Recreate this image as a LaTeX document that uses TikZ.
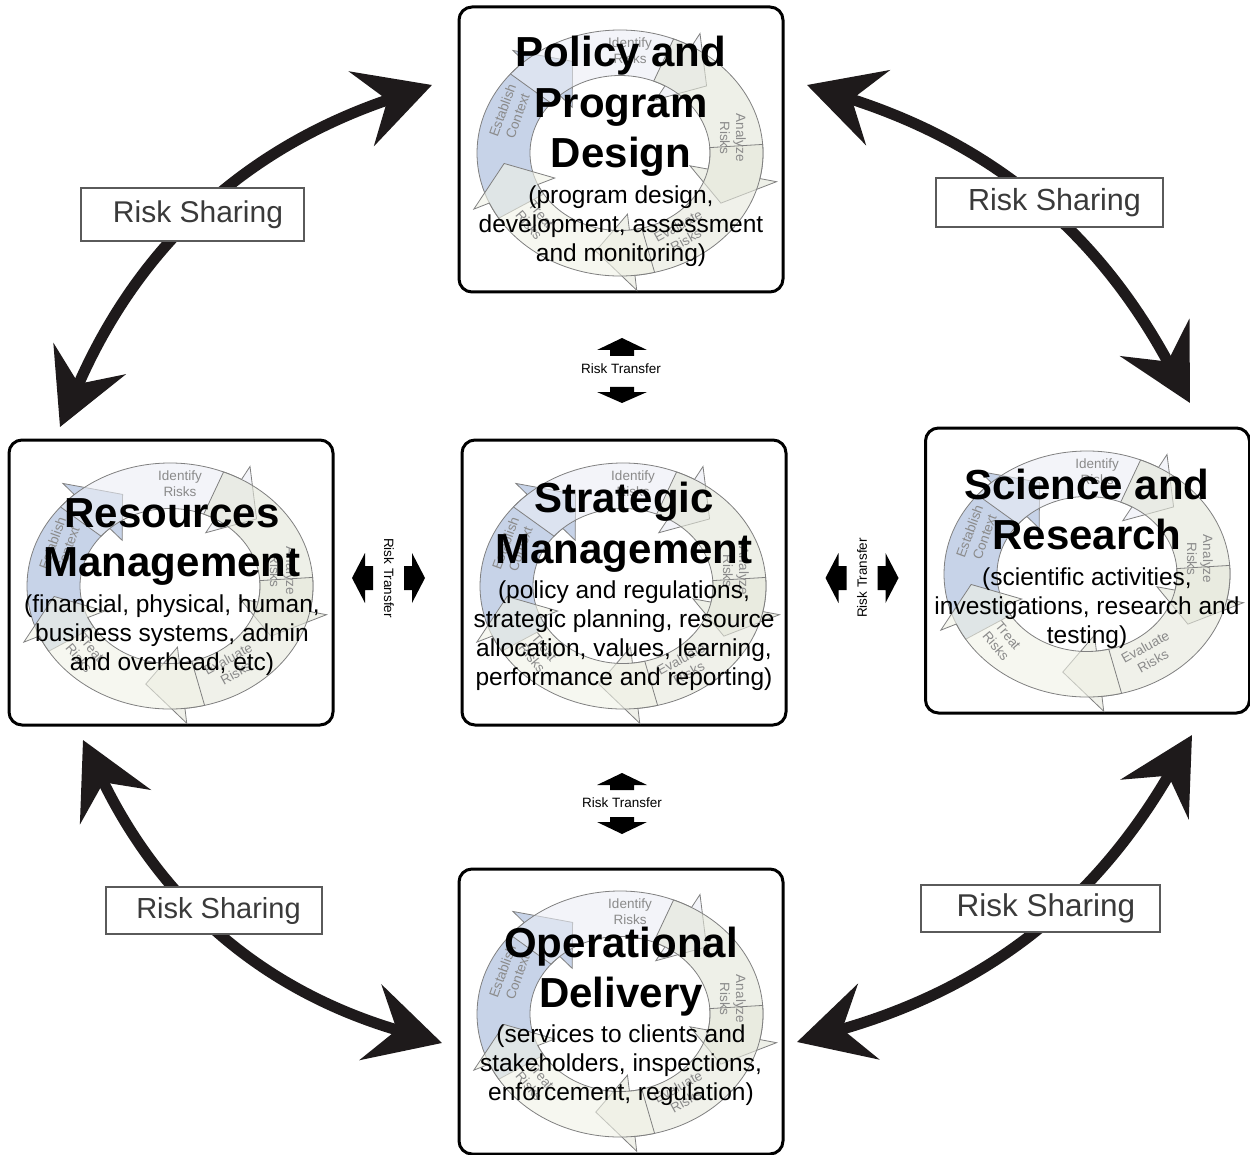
\documentclass[tikz,border=0pt]{standalone}
\usepackage{fontspec}
\setmainfont{Liberation Sans}
\usetikzlibrary{arrows.meta,calc}

\definecolor{idfill}{HTML}{EBEEF6}
\definecolor{anfill}{HTML}{E3E6D9}
\definecolor{evfill}{HTML}{E6E8DC}
\definecolor{trfill}{HTML}{F0F2E6}
\definecolor{esfill}{HTML}{A3B7D9}
\definecolor{segedge}{HTML}{808080}
\definecolor{cyctext}{HTML}{8A8A8A}
\definecolor{arrowink}{HTML}{1E1A1B}
\definecolor{shareedge}{HTML}{5A5A5A}
\definecolor{sharetext}{HTML}{3A3A3A}

\tikzset{
  panel/.style={draw=black, line width=3pt, rounded corners=13pt, fill=white,
    minimum width=324pt, minimum height=285pt, inner sep=0pt, outer sep=0pt},
  seg/.style={draw=segedge, line width=0.8pt, fill opacity=0.6},
  cyclabel/.style={text=cyctext, font=\fontsize{13.5}{16}\selectfont, align=center, inner sep=0pt},
  ttl/.style={font=\bfseries\fontsize{42}{49}\selectfont, anchor=base, inner sep=0pt},
  sub/.style={font=\fontsize{24.5}{29}\selectfont, anchor=base, inner sep=0pt},
  share/.style={draw=arrowink, line width=11pt,
    {Stealth[length=74pt,width=78pt,inset=27pt]}-{Stealth[length=74pt,width=78pt,inset=27pt]}},
  sharebox/.style={draw=shareedge, line width=2pt, fill=white, text=sharetext, inner sep=0pt},
  xfer/.style={fill=black},
  xferlabel/.style={font=\fontsize{13.5}{16}\selectfont, inner sep=0pt}
}

% one arrow of the risk management cycle: tail angle #1, head angle #2, fill #3
\newcommand{\cycleseg}[3]{%
  \filldraw[seg, fill=#3]
    (#1:143pt and 123pt) arc[start angle=#1, end angle=#2, x radius=143pt, y radius=123pt]
    -- (#2:160pt and 138pt) -- ({#2-18}:116.5pt and 100.25pt) -- (#2:71.5pt and 61.5pt)
    -- (#2:90pt and 77.5pt) arc[start angle=#2, end angle=#1, x radius=90pt, y radius=77.5pt]
    -- cycle;}

% the five-step cycle drawn behind a panel title: centre #1, name prefix #2
\newcommand{\riskcycle}[2]{%
  \begin{scope}[shift={#1}]
    \cycleseg{-148}{-228}{esfill}
    \cycleseg{140}{60}{idfill}
    \cycleseg{68}{-12}{anfill}
    \cycleseg{4}{-84}{evfill}
    \cycleseg{-76}{-156}{trfill}
    \node[cyclabel] (#2-id) at (10,102) {Identify\\Risks};
    \node[cyclabel, rotate=-90] (#2-an) at (113,15) {Analyze\\Risks};
    \node[cyclabel, rotate=29] (#2-ev) at (62,-80) {Evaluate\\Risks};
    \node[cyclabel, rotate=-50] (#2-tr) at (-85,-67) {Treat\\Risks};
    \node[cyclabel, rotate=70] (#2-es) at (-110,40) {Establish\\Context};
  \end{scope}}

\begin{document}
\begin{tikzpicture}[x=1pt, y=1pt]
\useasboundingbox (0,0) rectangle (1250,-1155);

% ---------- panels ----------
\node[panel] (policy) at (621,-149.5) {};
\node[panel] (strategic) at (624,-582.5) {};
\node[panel] (resources) at (171,-582.5) {};
\node[panel] (science) at (1087.5,-570.5) {};
\node[panel] (operational) at (621,-1011.5) {};

\riskcycle{(620,-153)}{pc}
\riskcycle{(623,-586)}{sc}
\riskcycle{(170,-586)}{rc}
\riskcycle{(1087,-574)}{xc}
\riskcycle{(620,-1014)}{oc}

% ---------- panel titles ----------
\node[ttl] (pol-t1) at (621,-67) {Policy and};
\node[ttl] (pol-t2) at (621,-118) {Program};
\node[ttl] (pol-t3) at (621,-168) {Design};
\node[sub] (pol-s1) at (621,-204) {(program design,};
\node[sub] (pol-s2) at (621,-233) {development, assessment};
\node[sub] (pol-s3) at (621,-262) {and monitoring)};

\node[ttl] (str-t1) at (624,-512) {Strategic};
\node[ttl] (str-t2) at (624,-563) {Management};
\node[sub] (str-s1) at (624,-598) {(policy and regulations,};
\node[sub] (str-s2) at (624,-627) {strategic planning, resource};
\node[sub] (str-s3) at (624,-656) {allocation, values, learning,};
\node[sub] (str-s4) at (624,-685) {performance and reporting)};

\node[ttl] (res-t1) at (172,-527) {Resources};
\node[ttl] (res-t2) at (172,-576) {Management};
\node[sub] (res-s1) at (172,-612) {(financial, physical, human,};
\node[sub] (res-s2) at (172,-641) {business systems, admin};
\node[sub] (res-s3) at (172,-670) {and overhead, etc)};

\node[ttl] (sci-t1) at (1087,-499) {Science and};
\node[ttl] (sci-t2) at (1087,-549) {Research};
\node[sub] (sci-s1) at (1087,-585) {(scientific activities,};
\node[sub] (sci-s2) at (1087,-614) {investigations, research and};
\node[sub] (sci-s3) at (1087,-643) {testing)};

\node[ttl] (ops-t1) at (621,-957) {Operational};
\node[ttl] (ops-t2) at (621,-1007) {Delivery};
\node[sub] (ops-s1) at (621,-1042) {(services to clients and};
\node[sub] (ops-s2) at (621,-1071) {stakeholders, inspections,};
\node[sub] (ops-s3) at (621,-1100) {enforcement, regulation)};

% ---------- risk sharing arrows ----------
\coordinate (tl-a) at (60,-427);
\coordinate (tl-b) at (432,-85);
\coordinate (tr-a) at (807,-85);
\coordinate (tr-b) at (1190,-403);
\coordinate (bl-a) at (83,-740);
\coordinate (bl-b) at (442,-1043);
\coordinate (br-a) at (1192,-735);
\coordinate (br-b) at (797,-1042);

\draw[share] (tl-a) to[bend left=24] (tl-b);
\draw[share] (tr-a) to[bend left=22] (tr-b);
\draw[share] (bl-a) to[bend right=24] (bl-b);
\draw[share] (br-a) to[bend left=22] (br-b);

\node[sharebox, minimum width=223pt, minimum height=53pt, font=\fontsize{30}{36}\selectfont]
  (rs-tl) at (192.5,-214.5) {\hspace*{11pt}Risk Sharing};
\node[sharebox, minimum width=227pt, minimum height=49pt, font=\fontsize{30.5}{36}\selectfont]
  (rs-tr) at (1049.5,-202.5) {\hspace*{10pt}Risk Sharing};
\node[sharebox, minimum width=216pt, minimum height=47pt, font=\fontsize{29}{35}\selectfont]
  (rs-bl) at (214,-910.5) {\hspace*{9pt}Risk Sharing};
\node[sharebox, minimum width=239pt, minimum height=47pt, font=\fontsize{31.5}{37}\selectfont]
  (rs-br) at (1040.5,-908.5) {\hspace*{11pt}Risk Sharing};

% ---------- risk transfer markers ----------
% between policy and strategic
\fill[xfer] (622,-338) -- (647,-350) -- (634,-350) -- (634,-356) -- (610,-356) -- (610,-350) -- (597,-350) -- cycle;
\node[xferlabel] (rt-top) at (621,-369) {Risk Transfer};
\fill[xfer] (610,-387) -- (634,-387) -- (634,-392) -- (647,-392) -- (622,-403) -- (597,-392) -- (610,-392) -- cycle;

% between strategic and operational
\fill[xfer] (622,-773) -- (647,-785) -- (634,-785) -- (634,-790) -- (610,-790) -- (610,-785) -- (597,-785) -- cycle;
\node[xferlabel] (rt-bottom) at (622,-803) {Risk Transfer};
\fill[xfer] (610,-817) -- (634,-817) -- (634,-822) -- (647,-822) -- (622,-834) -- (597,-822) -- (610,-822) -- cycle;

% between resources and strategic
\fill[xfer] (352,-578) -- (365,-553) -- (365,-566) -- (373,-566) -- (373,-590) -- (365,-590) -- (365,-603) -- cycle;
\node[xferlabel, rotate=-90] (rt-left) at (389,-578) {Risk Transfer};
\fill[xfer] (425,-578) -- (412,-553) -- (412,-566) -- (404,-566) -- (404,-590) -- (412,-590) -- (412,-603) -- cycle;

% between strategic and science
\fill[xfer] (825.5,-578) -- (838.5,-553) -- (838.5,-566) -- (846.5,-566) -- (846.5,-590) -- (838.5,-590) -- (838.5,-603) -- cycle;
\node[xferlabel, rotate=90] (rt-right) at (862,-578) {Risk Transfer};
\fill[xfer] (898.5,-578) -- (885.5,-553) -- (885.5,-566) -- (877.5,-566) -- (877.5,-590) -- (885.5,-590) -- (885.5,-603) -- cycle;

\end{tikzpicture}
\end{document}
